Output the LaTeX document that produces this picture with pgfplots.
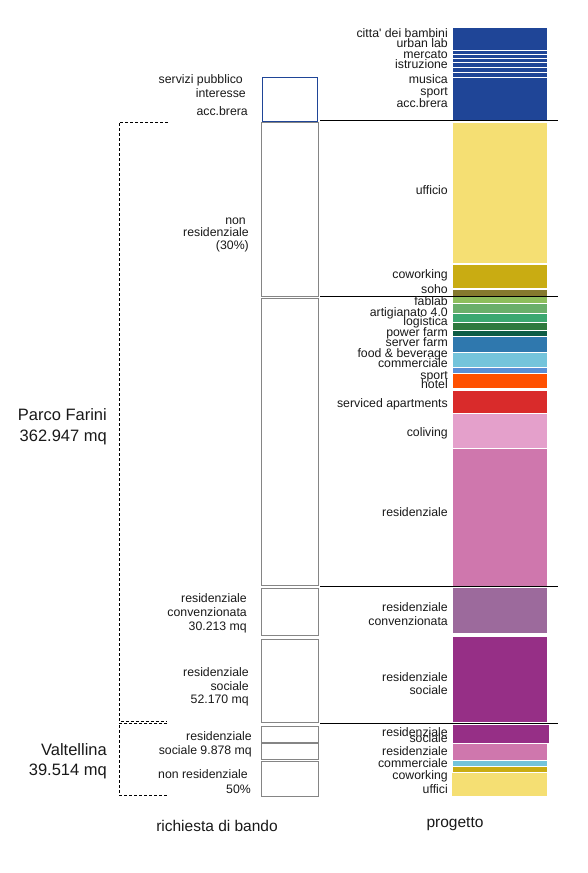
\documentclass[border=0pt]{standalone}
\usepackage{fontspec}
\setmainfont{Liberation Sans}
\usepackage{pgfplots}
\pgfplotsset{compat=1.18}
\definecolor{cblu}{HTML}{1F4597}
\definecolor{cuff}{HTML}{F5DF73}
\definecolor{ccow}{HTML}{C9AC12}
\definecolor{csoh}{HTML}{857A2E}
\definecolor{cfab}{HTML}{8DBE5C}
\definecolor{cart}{HTML}{6AAF6A}
\definecolor{clog}{HTML}{3BA870}
\definecolor{cpow}{HTML}{2E7A3E}
\definecolor{cser}{HTML}{0D5C45}
\definecolor{cfoo}{HTML}{2F78AE}
\definecolor{ccom}{HTML}{74C4DB}
\definecolor{cspo}{HTML}{5A8FD6}
\definecolor{chot}{HTML}{FF5000}
\definecolor{capt}{HTML}{D92B2B}
\definecolor{ccol}{HTML}{E4A0CB}
\definecolor{cres}{HTML}{CF77AD}
\definecolor{ccon}{HTML}{9C6A9C}
\definecolor{csoc}{HTML}{962F86}
\definecolor{cbox}{HTML}{858585}
\tikzset{
  lab/.style={anchor=base east, yshift=-4.3bp, inner sep=0pt, text=black!90,
    font=\fontsize{12.3bp}{12bp}\selectfont},
  bigl/.style={anchor=base east, yshift=-5.8bp, inner sep=0pt, text=black!90,
    font=\fontsize{16.5bp}{16bp}\selectfont}}
\newcommand{\seg}[5]{\addplot[fill=#5, draw=none] coordinates {(#1,#3) (#2,#3) (#2,#4) (#1,#4)} -- cycle;}
\newcommand{\lbx}[5]{\addplot[draw=#5, line width=0.9bp, fill=none] coordinates {(#1,#3) (#2,#3) (#2,#4) (#1,#4)} -- cycle;}
\newcommand{\lab}[3]{\node[lab] at (axis cs:#1,#2) {#3};}
\newcommand{\grp}[3]{\node[bigl] at (axis cs:#1,#2) {#3};}
\begin{document}
\begin{tikzpicture}
\begin{axis}[scale only axis, width=588bp, height=873bp,
  xmin=0, xmax=588, ymin=0, ymax=873, y dir=reverse,
  hide axis, clip=false, no markers]
\addplot[draw=none] coordinates {(0,0) (588,873)};
% ---- progetto bar: Parco Farini
\seg{453}{547}{28}{50}{cblu}
\seg{453}{547}{51}{54}{cblu}
\seg{453}{547}{55}{58}{cblu}
\seg{453}{547}{59}{62.5}{cblu}
\seg{453}{547}{63.5}{67.5}{cblu}
\seg{453}{547}{68.5}{72.5}{cblu}
\seg{453}{547}{73.5}{77}{cblu}
\seg{453}{547}{78}{120}{cblu}
\seg{453}{547}{123}{262.5}{cuff}
\seg{453}{547}{265}{288}{ccow}
\seg{453}{547}{290}{296}{csoh}
\seg{453}{547}{297}{303}{cfab}
\seg{453}{547}{304}{313}{cart}
\seg{453}{547}{314}{322}{clog}
\seg{453}{547}{323}{329.5}{cpow}
\seg{453}{547}{330.5}{336}{cser}
\seg{453}{547}{337}{352}{cfoo}
\seg{453}{547}{353}{367}{ccom}
\seg{453}{547}{368}{373}{cspo}
\seg{453}{547}{374}{387.5}{chot}
\seg{453}{547}{391}{412.5}{capt}
\seg{453}{547}{413.5}{447.5}{ccol}
\seg{453}{547}{449}{585.5}{cres}
\seg{453}{547}{588}{633}{ccon}
\seg{453}{547}{637}{722}{csoc}
% ---- progetto bar: Valtellina
\seg{453}{549}{725}{743}{csoc}
\seg{453}{547}{744}{760}{cres}
\seg{453}{547}{761}{766}{ccom}
\seg{453}{547}{767}{772}{ccow}
\seg{452}{547}{773}{796}{cuff}
% ---- black separators
\addplot[black, line width=1bp] coordinates {(320,121) (558,121)};
\addplot[black, line width=1bp] coordinates {(320,296) (558,296)};
\addplot[black, line width=1bp] coordinates {(320,586) (558,586)};
\addplot[black, line width=1bp] coordinates {(320,723) (558,723)};
% ---- richiesta di bando boxes
\lbx{262}{317}{77}{121}{cblu}
\lbx{261}{318}{122}{296}{cbox}
\lbx{261}{318}{298}{585}{cbox}
\lbx{261}{318}{588}{635}{cbox}
\lbx{261}{318}{639}{722.5}{cbox}
\lbx{261}{318}{726}{742.5}{cbox}
\lbx{261}{318}{743.5}{759}{cbox}
\lbx{261}{318}{761}{796}{cbox}
% ---- dashed brackets
\addplot[black, line width=0.8bp, dash pattern=on 3bp off 2bp] coordinates {(168,122) (119,122) (119,721) (167,721)};
\addplot[black, line width=0.8bp, dash pattern=on 3bp off 2bp] coordinates {(167,723) (119,723) (119,795) (167,795)};
% ---- right labels
\lab{448}{33}{citta\textquotesingle{} dei bambini}
\lab{448}{43}{urban lab}
\lab{448}{54}{mercato}
\lab{448}{64}{istruzione}
\lab{448}{79}{musica}
\lab{448}{91}{sport}
\lab{448}{103}{acc.brera}
\lab{448}{190}{ufficio}
\lab{448}{274}{coworking}
\lab{448}{289}{soho}
\lab{448}{301}{fablab}
\lab{448}{312}{artigianato 4.0}
\lab{448}{321}{logistica}
\lab{448}{332}{power farm}
\lab{448}{342}{server farm}
\lab{448}{353}{food \& beverage}
\lab{448}{363}{commerciale}
\lab{448}{375}{sport}
\lab{448}{384}{hotel}
\lab{448}{403}{serviced apartments}
\lab{448}{432}{coliving}
\lab{448}{512}{residenziale}
\lab{448}{607}{residenziale}
\lab{448}{621}{convenzionata}
\lab{448}{677}{residenziale}
\lab{448}{690}{sociale}
\lab{448}{732}{residenziale}
\lab{448}{738}{sociale}
\lab{448}{751}{residenziale}
\lab{448}{763}{commerciale}
\lab{448}{775}{coworking}
\lab{448}{789}{uffici}
% ---- left labels
\lab{243}{79}{servizi pubblico}
\lab{246}{93}{interesse}
\lab{248}{111}{acc.brera}
\lab{246}{220}{non}
\lab{249}{232}{residenziale}
\lab{249}{245}{(30\%)}
\lab{247}{598}{residenziale}
\lab{247}{612}{convenzionata}
\lab{247}{626}{30.213 mq}
\lab{249}{672}{residenziale}
\lab{249}{686}{sociale}
\lab{249}{699}{52.170 mq}
\lab{252}{736}{residenziale}
\lab{252}{750}{sociale 9.878 mq}
\lab{248}{774}{non residenziale}
\lab{251}{789}{50\%}
% ---- group labels
\grp{107}{415}{Parco Farini}
\grp{107}{436}{362.947 mq}
\grp{107}{750}{Valtellina}
\grp{107}{770}{39.514 mq}
\node[anchor=base, yshift=-5.5bp, inner sep=0pt, text=black!90, font=\fontsize{15.5bp}{16bp}\selectfont] at (axis cs:217,826) {richiesta di bando};
\node[anchor=base, yshift=-5.5bp, inner sep=0pt, text=black!90, font=\fontsize{15.5bp}{16bp}\selectfont] at (axis cs:455,822) {progetto};
\end{axis}
\end{tikzpicture}
\end{document}
